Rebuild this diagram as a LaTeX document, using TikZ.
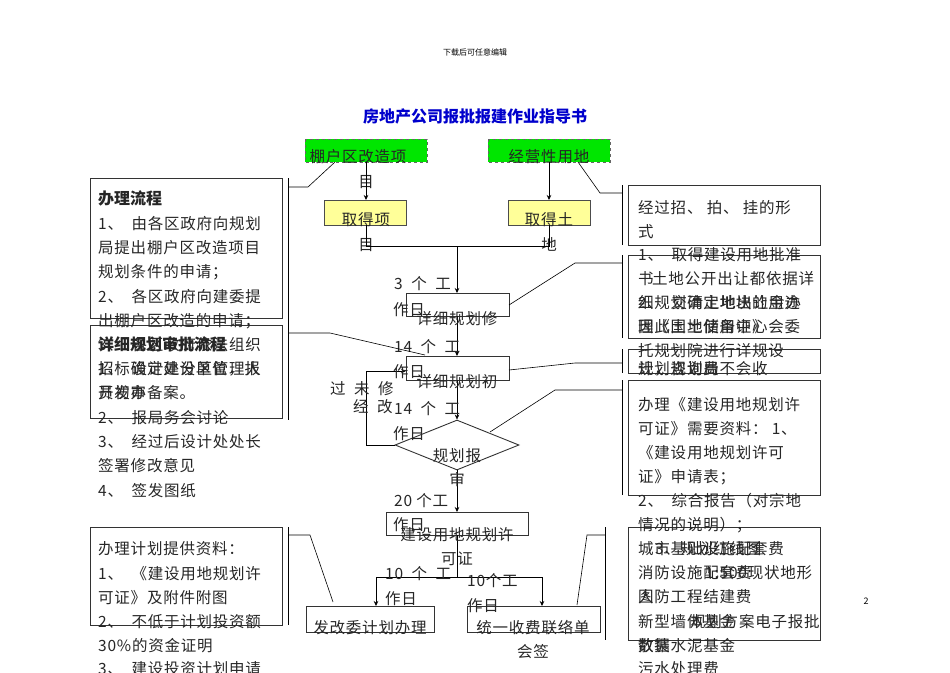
\documentclass[tikz,border=0pt]{standalone}
\usepackage{fontspec}
\newfontfamily\cjk[LetterSpace=5]{Noto Sans CJK SC}
\newfontfamily\cjkt{Noto Sans CJK SC}
\usetikzlibrary{shapes.geometric,arrows.meta}
\definecolor{gbright}{RGB}{0,230,0}
\definecolor{ybox}{RGB}{255,255,153}
\begin{document}
\begin{tikzpicture}[x=1pt,y=-1pt,
  t/.style={anchor=base west,inner sep=0pt,font=\cjk\fontsize{15.5}{15.5}\selectfont,text=black!85},
  tc/.style={anchor=base,inner sep=0pt,font=\cjk\fontsize{15.5}{15.5}\selectfont,text=black!85},
  bx/.style={draw=black!80,line width=0.9pt},
  ln/.style={draw=black,line width=0.6pt},
  ar/.style={ln,-{Stealth[length=5pt,width=4.5pt]}},
  grn/.style={draw=black!60,dashed,fill=gbright,line width=0.8pt},
  yel/.style={draw=black!70,fill=ybox,line width=0.8pt}]
\useasboundingbox (0,0) rectangle (950,672);
\node[anchor=base,font=\cjkt\fontsize{8}{8}\selectfont] (hd) at (475,55) {下载后可任意编辑};
\node[anchor=base,font=\cjkt\bfseries\fontsize{16}{16}\selectfont,text=blue!80!black] (ti) at (475,122) {房地产公司报批报建作业指导书};
\node[anchor=base,font=\cjkt\fontsize{9}{9}\selectfont] (pg) at (866,604) {2};
% green boxes
\path[grn] (305,139) rectangle (427,162); \path[grn] (488,139) rectangle (610,162);
\node[tc] (g1) at (358,162) {棚户区改造项}; \node[tc] (g1b) at (366,187) {目};
\node[tc] (g2) at (549,162) {经营性用地};
% yellow boxes
\path[yel] (324,200) rectangle (406,225); \path[yel] (508,200) rectangle (590,225);
\node[tc] (y1) at (366,225) {取得项}; \node[tc] (y1b) at (366,250) {目};
\node[tc] (y2) at (549,225) {取得土}; \node[tc] (y2b) at (549,250) {地};
\coordinate (ga) at (366,162); \coordinate (ya) at (366,200);
\coordinate (gb) at (549,162); \coordinate (yb) at (549,200);
\draw[ar] (ga)--(ya); \draw[ar] (gb)--(yb);
\coordinate (j1) at (366,225); \coordinate (j2) at (549,225); \coordinate (jm) at (457,246);
\draw[ln] (j1)--(366,246)--(549,246)--(j2);
% main chain
\draw[bx] (406,293) rectangle (509,316);
\draw[bx] (406,356) rectangle (509,380);
\node[diamond,draw=black!80,line width=0.9pt,minimum width=124pt,minimum height=50pt,aspect=2.48,inner sep=0pt] (dm) at (457,445) {};
\draw[bx] (386,512) rectangle (528,535);
\draw[bx] (306,606) rectangle (434,632);
\draw[bx] (467,606) rectangle (600,632);
\coordinate (b1t) at (457,293); \coordinate (b1b) at (457,316);
\coordinate (b2t) at (457,356); \coordinate (b2b) at (457,380);
\coordinate (b4t) at (457,512); \coordinate (b4b) at (457,535);
\draw[ar] (jm)--(b1t); \draw[ar] (b1b)--(b2t); \draw[ar] (b2b)--(dm.north); \draw[ar] (dm.south)--(b4t);
\draw[ln] (b4b)--(457,577);
\coordinate (l5) at (376,606); \coordinate (r5) at (542,606);
\draw[ar] (457,577)-|(l5); \draw[ar] (457,577)-|(r5);
\coordinate (fb) at (406,371);
\draw[ar] (dm.west)--(366,445)--(366,371)--(fb);
\node[tc] (m1) at (457,324) {详细规划修}; \node[tc] (m2) at (457,387) {详细规划初};
\node[tc] (m3) at (457,461) {规划报}; \node[tc] (m3b) at (457,485) {审};
\node[tc] (m4) at (457,540) {建设用地规划许}; \node[tc] (m4b) at (457,564) {可证};
\node[tc] (m5) at (370,633) {发改委计划办理}; \node[tc] (m6) at (533,633) {统一收费联络单}; \node[tc] (m6b) at (533,657) {会签};
\node[t] (d1) at (394,289) {3 \ 个 \ 工}; \node[t] (d1b) at (393,315) {作日};
\node[t] (d2) at (394,352) {14 \ 个 \ 工}; \node[t] (d2b) at (393,377) {作日};
\node[t] (d3) at (394,414) {14 \ 个 \ 工}; \node[t] (d3b) at (393,439) {作日};
\node[t] (d4) at (394,506) {20 个工}; \node[t] (d4b) at (393,530) {作日};
\node[t] (d5) at (385,579) {10 \ 个 \ 工}; \node[t] (d5b) at (385,604) {作日};
\node[t] (d6) at (467,586) {10个工}; \node[t] (d6b) at (467,611) {作日};
\node[t] (fx) at (330,394) {过 \ 未 \ 修}; \node[t] (fx2) at (353,412) {经 \ 改};
% left boxes
\draw[bx] (90,178) rectangle (282,318);
\draw[bx] (90,325) rectangle (282,418);
\draw[bx] (90,527) rectangle (282,625);
\draw[ln] (288,178)--(288,338); \draw[ln] (288,187)--(308,187)--(335,162);
\draw[ln] (288,325)--(288,420); \draw[ln] (288,333)--(330,333)--(425,355);
\draw[ln] (288,527)--(288,625); \draw[ln] (288,535)--(310,535)--(333,602);
\node[t,font=\cjkt\bfseries\fontsize{16}{16}\selectfont] (a0) at (98,204) {办理流程};
\node[t] (a1) at (98,229) {1、\ \ 由各区政府向规划};
\node[t] (a2) at (98,253) {局提出棚户区改造项目};
\node[t] (a3) at (98,277) {规划条件的申请；};
\node[t] (a4) at (98,302) {2、\ \ 各区政府向建委提};
\node[t] (a5) at (98,326) {出棚户区改造的申请；};
\node[t] (a6) at (98,350) {3、\ \ 各区政府依法组织};
\node[t] (a7) at (98,374) {招标确定建设单位，报};
\node[t] (a8) at (98,398) {开发办备案。};
\node[t,font=\cjkt\bfseries\fontsize{16}{16}\selectfont] (c0) at (98,350) {详细规划审批流程};
\node[t] (c1) at (98,374) {1、\ \ 设计处分区管理人};
\node[t] (c2) at (98,398) {员初审};
\node[t] (c3) at (98,423) {2、\ \ 报局务会讨论};
\node[t] (c4) at (98,447) {3、\ \ 经过后设计处处长};
\node[t] (c5) at (98,471) {签署修改意见};
\node[t] (c6) at (98,496) {4、\ \ 签发图纸};
\node[t] (e0) at (98,554) {办理计划提供资料：};
\node[t] (e1) at (98,579) {1、\ \ 《建设用地规划许};
\node[t] (e2) at (98,603) {可证》及附件附图};
\node[t] (e3) at (98,627) {2、\ \ 不低于计划投资额};
\node[t] (e4) at (98,651) {30\%的资金证明};
\node[t] (e5) at (98,674) {3、\ \ 建设投资计划申请};
% right boxes
\draw[bx] (628,185) rectangle (820,245);
\draw[bx] (628,255) rectangle (820,338);
\draw[bx] (628,349) rectangle (820,373);
\draw[bx] (628,380) rectangle (820,495);
\draw[bx] (628,527) rectangle (820,640);
\draw[ln] (622,185)--(622,245); \draw[ln] (578,162)--(600,193)--(622,193);
\draw[ln] (622,255)--(622,338); \draw[ln] (509,305)--(575,263)--(622,263);
\draw[ln] (622,349)--(622,373); \draw[ln] (509,370)--(575,363)--(622,363);
\draw[ln] (622,380)--(622,495); \draw[ln] (490,432)--(555,390)--(622,390);
\draw[ln] (605,527)--(605,640); \draw[ln] (577,605)--(587,535)--(605,535);
\node[t] (r1) at (638,213) {经过招、\ 拍、\ 挂的形};
\node[t] (r1b) at (638,237) {式};
\node[t] (p1) at (638,260) {1、\ \ 取得建设用地批准};
\node[t] (p2) at (638,284) {书};
\node[t] (p3) at (638,308) {2、\ \ 交清土地出让金办};
\node[t] (p4) at (638,332) {理《国土使用证》};
\node[t] (q1) at (652,284) {土地公开出让都依据详};
\node[t] (q2) at (638,308) {细规划确定地块的用途};
\node[t] (q3) at (638,332) {因此土地储备中心会委};
\node[t] (q4) at (638,356) {托规划院进行详规设};
\node[t] (q5) at (638,374) {计，规划局不会收};
\node[t] (r3) at (638,374) {规划咨询费};
\node[t] (s1) at (638,410) {办理《建设用地规划许};
\node[t] (s2) at (638,434) {可证》需要资料：\ 1、};
\node[t] (s3) at (638,458) {《建设用地规划许可};
\node[t] (s4) at (638,482) {证》申请表；};
\node[t] (s5) at (638,506) {2、\ \ 综合报告（对宗地};
\node[t] (s6) at (638,530) {情况的说明）；};
\node[t] (u1) at (638,554) {城市基础设施配套费};
\node[t] (u2) at (638,578) {消防设施配套费};
\node[t] (u3) at (638,602) {人防工程结建费};
\node[t] (u4) at (638,627) {新型墙体基金};
\node[t] (u5) at (638,651) {散装水泥基金};
\node[t] (u6) at (638,674) {污水处理费};
\node[t] (v1) at (655,554) {3、规划红线图};
\node[t] (v2) at (705,578) {1:500现状地形};
\node[t] (v3) at (638,602) {图};
\node[t] (v4) at (690,627) {规划方案电子报批};
\node[t] (v5) at (638,651) {数据};
\end{tikzpicture}
\end{document}
